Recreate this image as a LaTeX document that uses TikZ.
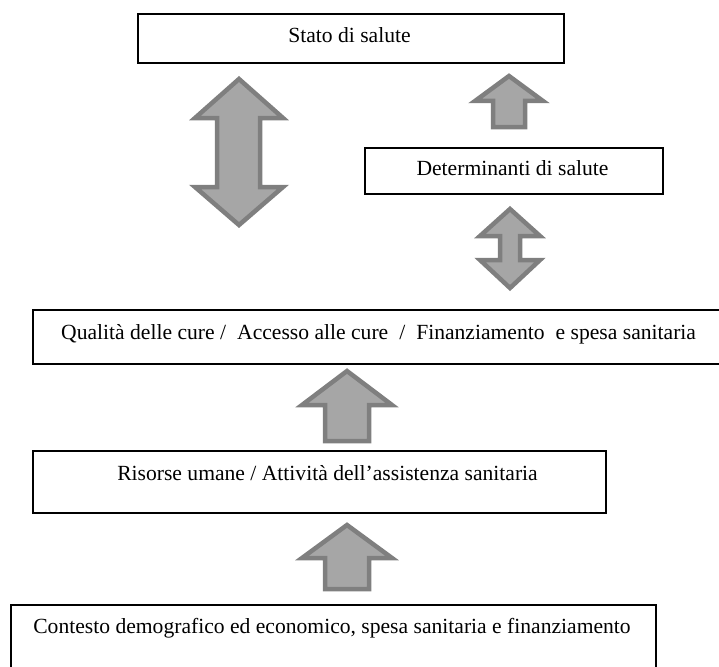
\documentclass[tikz,border=0pt]{standalone}
\usepackage{fontspec}
\setmainfont{Liberation Serif}
\definecolor{arrfill}{RGB}{166,166,166}
\definecolor{arrline}{RGB}{127,127,127}
\begin{document}
\begin{tikzpicture}[x=1pt,y=-1pt,
  box/.style={draw=black,line width=1.8pt,rectangle,inner sep=0pt,anchor=north west},
  lbl/.style={inner sep=0pt,anchor=base,font=\fontsize{21.6}{25}\selectfont},
  blockarrow/.style={fill=arrfill,draw=arrline,line width=4.5pt,line join=miter}]
\useasboundingbox (0,0) rectangle (719,666);
% boxes
\node[box,minimum width=426pt,minimum height=49pt] (b1) at (137,13) {};
\node[lbl] (t1) at (349.5,43) {Stato di salute};
\node[box,minimum width=298pt,minimum height=46pt] (b2) at (364,147) {};
\node[lbl] (t2) at (512.5,175) {Determinanti di salute};
\node[box,minimum width=700pt,minimum height=54pt] (b3) at (32,309) {};
\node[lbl,anchor=base west] (t3) at (61,339) {Qualità delle cure /\hspace{11pt}Accesso alle cure\hspace{11pt}/\hspace{11pt}Finanziamento\hspace{11pt}e spesa sanitaria};
\node[box,minimum width=573pt,minimum height=62pt] (b4) at (32,450) {};
\node[lbl] (t4) at (327.5,480) {Risorse umane / Attività dell’assistenza sanitaria};
\node[box,minimum width=645pt,minimum height=80pt] (b5) at (10,604) {};
\node[lbl] (t5) at (332,633) {Contesto demografico ed economico, spesa sanitaria e finanziamento};
% big double arrow between b1 and b3 region
\draw[blockarrow] (239,79) -- (283,118) -- (260,118) -- (260,187) -- (283,187) -- (239,225)
  -- (195,187) -- (217,187) -- (217,118) -- (195,118) -- cycle;
% small up arrow b2 -> b1
\draw[blockarrow] (509,76) -- (543,101) -- (525,101) -- (525,127) -- (493,127) -- (493,101) -- (475,101) -- cycle;
% small double arrow b3 <-> b2
\draw[blockarrow] (510,209) -- (540,236) -- (520,236) -- (520,260) -- (540,260) -- (510,288)
  -- (480,260) -- (500,260) -- (500,236) -- (480,236) -- cycle;
% up arrow b4 -> b3
\draw[blockarrow] (347,371) -- (392,405) -- (369,405) -- (369,441) -- (325,441) -- (325,405) -- (302,405) -- cycle;
% up arrow b5 -> b4
\draw[blockarrow] (347,525) -- (392,558) -- (369,558) -- (369,589) -- (325,589) -- (325,558) -- (302,558) -- cycle;
\end{tikzpicture}
\end{document}
